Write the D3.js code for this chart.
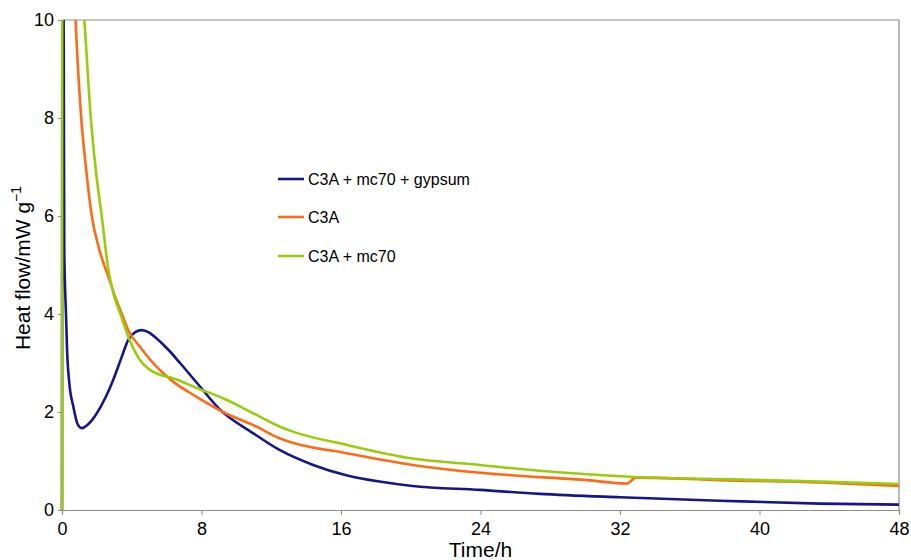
<!DOCTYPE html>
<html>
<head>
<meta charset="utf-8">
<script src="https://cdn.jsdelivr.net/npm/d3@7"></script>
<style>
  body { margin: 0; background: #fff; }
  text { font-family: "Liberation Sans", Arial, sans-serif; fill: #000; }
</style>
</head>
<body>
<script>
// series: [time h, heat flow mW/g]
var gypsumSeries = [[0, 0], [0.03, 12], [0.1, 9.5], [0.13, 5.3], [0.23, 3.98], [0.29, 3.27],
  [0.42, 2.59], [0.65, 2.11], [0.9, 1.75], [1.13, 1.67], [1.5, 1.75], [1.99, 1.97], [2.5, 2.3],
  [2.93, 2.65], [3.4, 3.1], [3.8, 3.47], [4.2, 3.63], [4.57, 3.67], [5.0, 3.62], [5.43, 3.5],
  [6.1, 3.27], [6.77, 3.0], [7.91, 2.52], [9.0, 2.07], [10.95, 1.57], [12.5, 1.22], [14.4, 0.92],
  [16.3, 0.71], [18.2, 0.58], [20.1, 0.49], [23.97, 0.41], [27.4, 0.33], [32, 0.26], [37.7, 0.19],
  [43.5, 0.13], [48, 0.11]]

var c3aSeries = [[0.5, 13], [0.78, 10], [1.09, 8.06], [1.4, 6.9], [1.7, 6.02], [2.15, 5.3],
  [2.62, 4.8], [3.1, 4.3], [3.52, 3.92], [3.8, 3.67], [4.47, 3.33], [5.43, 2.92], [6.37, 2.62],
  [7.72, 2.31], [9.24, 2.0], [11.16, 1.7], [12.5, 1.46], [13.07, 1.39], [16.3, 1.16], [20.1, 0.92],
  [23.97, 0.76], [27.4, 0.67], [30.1, 0.61], [32.4, 0.54], [32.9, 0.66], [37.7, 0.61], [43.5, 0.56],
  [48, 0.49]]

var mc70Series = [[0, 0], [0.02, 14], [1.0, 11.2], [1.28, 10], [1.64, 8.06], [1.95, 6.9],
  [2.27, 6.02], [2.66, 4.9], [3.0, 4.35], [3.33, 4.02], [3.8, 3.54], [4.47, 3.06], [5.0, 2.87],
  [5.62, 2.76], [6.37, 2.69], [7.72, 2.49], [9.24, 2.28], [11.16, 1.94], [12.5, 1.70], [13.07, 1.62],
  [16.3, 1.33], [20.1, 1.05], [23.97, 0.92], [27.4, 0.80], [32.6, 0.68], [37.7, 0.63], [43.5, 0.58],
  [48, 0.53]]

var seriesNames = ["C3A + mc70 + gypsum", "C3A", "C3A + mc70"]
var seriesColors = ["#16168c", "#ff6a14", "#99cc0c"]
var xTicks = [0, 8, 16, 24, 32, 40, 48]
var yTicks = [0, 2, 4, 6, 8, 10]

var allSeries = [gypsumSeries, c3aSeries, mc70Series]

var width = 911, height = 560
var margin = { left: 62, right: 12, top: 20, bottom: 50 }

var svg = d3.select("body").append("svg")
    .attr("width", width)
    .attr("height", height)

var x = d3.scaleLinear().domain([0, 48]).range([margin.left, width - margin.right])
var y = d3.scaleLinear().domain([0, 10]).range([height - margin.bottom, margin.top])

svg.append("clipPath").attr("id", "plot")
  .append("rect")
    .attr("x", x(0) - 2).attr("y", y(10))
    .attr("width", x(48) - x(0) + 2).attr("height", y(0) - y(10))

// frame on top and right
svg.append("line")
    .attr("x1", x(0)).attr("x2", x(48)).attr("y1", y(10)).attr("y2", y(10))
    .attr("stroke", "#8c8c8c").attr("stroke-width", 1.2)
svg.append("line")
    .attr("x1", x(48)).attr("x2", x(48)).attr("y1", y(10)).attr("y2", y(0))
    .attr("stroke", "#8c8c8c").attr("stroke-width", 1.2)

var xAxis = svg.append("g")
    .attr("transform", "translate(0," + y(0) + ")")
    .call(d3.axisBottom(x).tickValues(xTicks).tickSize(5).tickPadding(7))
var yAxis = svg.append("g")
    .attr("transform", "translate(" + x(0) + ",0)")
    .call(d3.axisLeft(y).tickValues(yTicks).tickSize(4).tickPadding(4))

svg.selectAll(".domain").attr("stroke", "#8c8c8c").attr("stroke-width", 1.2)
svg.selectAll(".tick line").attr("stroke", "#8c8c8c")
svg.selectAll(".tick text").attr("font-size", 18).attr("fill", "#000")
    .attr("font-family", "Liberation Sans, Arial, sans-serif")

var line = d3.line()
    .x(d => x(d[0]))
    .y(d => y(d[1]))
    .curve(d3.curveMonotoneX)

svg.append("g").attr("clip-path", "url(#plot)")
  .selectAll("path")
    .data(allSeries)
    .enter()
    .append("path")
    .attr("d", d => line(d))
    .attr("fill", "none")
    .attr("stroke", (d, i) => seriesColors[i])
    .attr("stroke-width", 2.6)

// legend
var legend = svg.selectAll(".legend")
    .data(seriesNames)
    .enter()
    .append("g")
    .attr("class", "legend")
    .attr("transform", (d, i) => "translate(278," + [179, 217, 256][i] + ")")

legend.append("line")
    .attr("x1", 0).attr("x2", 26).attr("y1", 0).attr("y2", 0)
    .attr("stroke", (d, i) => seriesColors[i])
    .attr("stroke-width", 2.6)
legend.append("text")
    .attr("x", 30).attr("y", 6)
    .attr("font-size", 16)
    .text(d => d)

svg.append("text")
    .attr("x", (x(0) + x(48)) / 2)
    .attr("y", 557)
    .attr("text-anchor", "middle")
    .attr("font-size", 21)
    .text("Time/h")

var yTitle = svg.append("text")
    .attr("transform", "translate(30," + (y(5) + 3) + ") rotate(-90)")
    .attr("text-anchor", "middle")
    .attr("font-size", 21)
yTitle.append("tspan").text("Heat flow/mW g")
yTitle.append("tspan").attr("font-size", 14).attr("dy", -9).text("\u22121")
</script>
</body>
</html>
